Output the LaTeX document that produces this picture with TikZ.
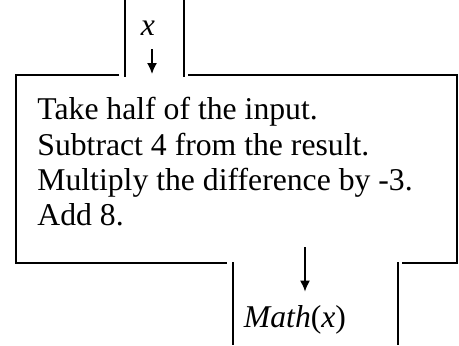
\documentclass[tikz,border=0pt]{standalone}
\usepackage{fontspec}
\setmainfont{Liberation Serif}
\usetikzlibrary{positioning, arrows.meta}
\tikzstyle{wall}=[line width=1pt]
\tikzstyle{flow}=[line width=0.8pt, -{Latex[length=5.5pt,width=5pt]}]
\tikzstyle{every node}=[font=\fontsize{15.85}{17.65}\selectfont, inner sep=0pt]

\begin{document}
\begin{tikzpicture}[x=0.5pt, y=-0.5pt]
            \useasboundingbox (0,0) rectangle (459,345);
            % machine body
            \draw[wall] (119,75) -- (16,75) -- (16,263) -- (227,263);
            \draw[wall] (188,75) -- (457,75) -- (457,263) -- (402,263);
            % chutes
            \draw[wall] (125,0) -- (125,77);
            \draw[wall] (184,0) -- (184,77);
            \draw[wall] (233,262) -- (233,345);
            \draw[wall] (398,262) -- (398,345);
            \node[anchor=north west, align=left] (steps) at (37,97) {Take half of the input.\\Subtract 4 from the result.\\Multiply the difference by -3.\\Add 8.};
            \node[anchor=base] (xin) at (148,35) {\textit{x}};
            \coordinate (xtip) at (152,74);
            \draw[flow] ([yshift=-7pt]xin.south -| xtip) -- (xtip);
            \node[anchor=base] (mathx) at (295,327) {\textit{Math}(\textit{x})};
            \coordinate (outtail) at (305,247);
            \draw[flow] (outtail) -- ([yshift=6.5pt]mathx.north -| outtail);
        \end{tikzpicture}
\end{document}
